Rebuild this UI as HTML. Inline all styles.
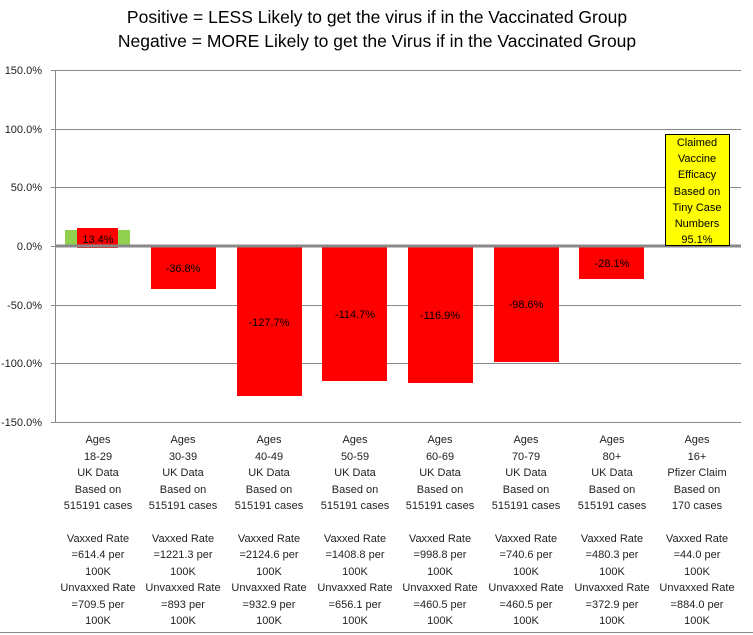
<!DOCTYPE html>
<html><head><style>body{margin:0;background:#fff}svg{display:block}text{font-family:"Liberation Sans",sans-serif}</style></head><body>
<svg width="753" height="635" viewBox="0 0 753 635">
<g font-size="17.5" text-anchor="middle" fill="#000">
<text x="377" y="23">Positive = LESS Likely to get the virus if in the Vaccinated Group</text>
<text x="377" y="47">Negative = MORE Likely to get the Virus if in the Vaccinated Group</text>
</g>
<g stroke="#888" stroke-width="1">
<line x1="55" y1="70.5" x2="741" y2="70.5"/><line x1="55" y1="129.5" x2="741" y2="129.5"/><line x1="55" y1="187.5" x2="741" y2="187.5"/>
<line x1="55" y1="305.5" x2="741" y2="305.5"/><line x1="55" y1="363.5" x2="741" y2="363.5"/><line x1="55" y1="422.5" x2="741" y2="422.5"/>
<line x1="55.5" y1="70" x2="55.5" y2="422"/>
<line x1="51" y1="70.5" x2="55" y2="70.5"/><line x1="51" y1="129.5" x2="55" y2="129.5"/><line x1="51" y1="187.5" x2="55" y2="187.5"/><line x1="51" y1="246.5" x2="55" y2="246.5"/><line x1="51" y1="305.5" x2="55" y2="305.5"/><line x1="51" y1="363.5" x2="55" y2="363.5"/><line x1="51" y1="422.5" x2="55" y2="422.5"/>
<line x1="0" y1="632.5" x2="753" y2="632.5"/>
</g>
<g font-size="11" fill="#222" text-anchor="end">
<text x="42" y="74">150.0%</text><text x="42" y="133">100.0%</text><text x="42" y="191">50.0%</text><text x="42" y="250">0.0%</text><text x="42" y="309">-50.0%</text><text x="42" y="367">-100.0%</text><text x="42" y="426">-150.0%</text>
</g>
<rect x="65" y="230" width="65" height="16" fill="#92d050"/>
<g fill="#f00">
<rect x="77" y="228" width="41" height="20"/>
<rect x="151" y="246" width="65" height="43"/>
<rect x="237" y="246" width="65" height="150"/>
<rect x="322" y="246" width="65" height="135"/>
<rect x="408" y="246" width="65" height="137"/>
<rect x="494" y="246" width="65" height="116"/>
<rect x="579" y="246" width="65" height="33"/>
</g>
<line x1="55" y1="246" x2="741" y2="246" stroke="#888" stroke-width="3"/>
<rect x="665.5" y="134.5" width="64" height="111" fill="#ff0" stroke="#000"/>
<g font-size="11" text-anchor="middle" fill="#000">
<text x="98" y="243">13.4%</text>
<text x="183" y="272">-36.8%</text>
<text x="269" y="326">-127.7%</text>
<text x="355" y="318">-114.7%</text>
<text x="440" y="319">-116.9%</text>
<text x="526" y="308">-98.6%</text>
<text x="612" y="267">-28.1%</text>
<text x="697" y="146">Claimed</text><text x="697" y="162">Vaccine</text><text x="697" y="178">Efficacy</text><text x="697" y="195">Based on</text><text x="697" y="211">Tiny Case</text><text x="697" y="227">Numbers</text><text x="697" y="243">95.1%</text>
</g>
<g font-size="11" text-anchor="middle" fill="#222">
<g transform="translate(98,0)"><text y="443">Ages</text><text y="460">18-29</text><text y="476">UK Data</text><text y="493">Based on</text><text y="509">515191 cases</text><text y="542">Vaxxed Rate</text><text y="558">=614.4 per</text><text y="575">100K</text><text y="591">Unvaxxed Rate</text><text y="608">=709.5 per</text><text y="624">100K</text></g>
<g transform="translate(183,0)"><text y="443">Ages</text><text y="460">30-39</text><text y="476">UK Data</text><text y="493">Based on</text><text y="509">515191 cases</text><text y="542">Vaxxed Rate</text><text y="558">=1221.3 per</text><text y="575">100K</text><text y="591">Unvaxxed Rate</text><text y="608">=893 per</text><text y="624">100K</text></g>
<g transform="translate(269,0)"><text y="443">Ages</text><text y="460">40-49</text><text y="476">UK Data</text><text y="493">Based on</text><text y="509">515191 cases</text><text y="542">Vaxxed Rate</text><text y="558">=2124.6 per</text><text y="575">100K</text><text y="591">Unvaxxed Rate</text><text y="608">=932.9 per</text><text y="624">100K</text></g>
<g transform="translate(355,0)"><text y="443">Ages</text><text y="460">50-59</text><text y="476">UK Data</text><text y="493">Based on</text><text y="509">515191 cases</text><text y="542">Vaxxed Rate</text><text y="558">=1408.8 per</text><text y="575">100K</text><text y="591">Unvaxxed Rate</text><text y="608">=656.1 per</text><text y="624">100K</text></g>
<g transform="translate(440,0)"><text y="443">Ages</text><text y="460">60-69</text><text y="476">UK Data</text><text y="493">Based on</text><text y="509">515191 cases</text><text y="542">Vaxxed Rate</text><text y="558">=998.8 per</text><text y="575">100K</text><text y="591">Unvaxxed Rate</text><text y="608">=460.5 per</text><text y="624">100K</text></g>
<g transform="translate(526,0)"><text y="443">Ages</text><text y="460">70-79</text><text y="476">UK Data</text><text y="493">Based on</text><text y="509">515191 cases</text><text y="542">Vaxxed Rate</text><text y="558">=740.6 per</text><text y="575">100K</text><text y="591">Unvaxxed Rate</text><text y="608">=460.5 per</text><text y="624">100K</text></g>
<g transform="translate(612,0)"><text y="443">Ages</text><text y="460">80+</text><text y="476">UK Data</text><text y="493">Based on</text><text y="509">515191 cases</text><text y="542">Vaxxed Rate</text><text y="558">=480.3 per</text><text y="575">100K</text><text y="591">Unvaxxed Rate</text><text y="608">=372.9 per</text><text y="624">100K</text></g>
<g transform="translate(697,0)"><text y="443">Ages</text><text y="460">16+</text><text y="476">Pfizer Claim</text><text y="493">Based on</text><text y="509">170 cases</text><text y="542">Vaxxed Rate</text><text y="558">=44.0 per</text><text y="575">100K</text><text y="591">Unvaxxed Rate</text><text y="608">=884.0 per</text><text y="624">100K</text></g>
</g>
</svg>
</body></html>
